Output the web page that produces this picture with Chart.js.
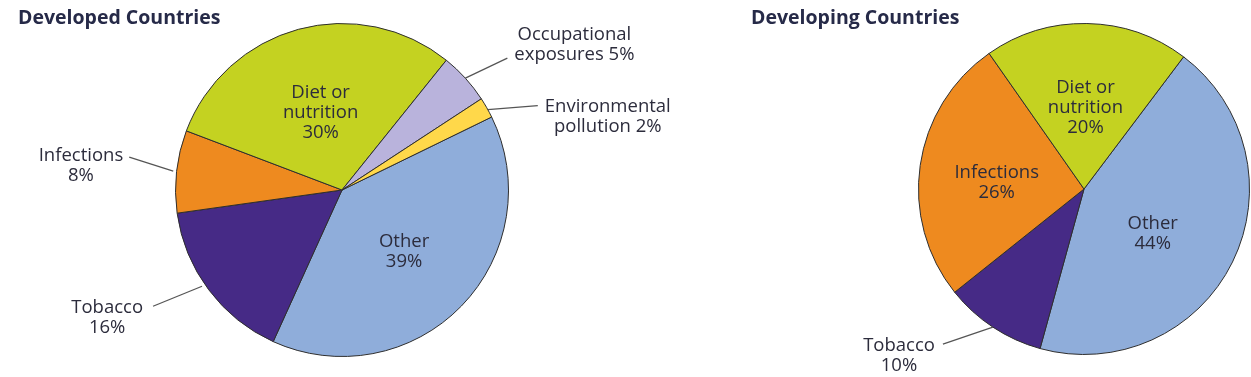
<!DOCTYPE html>
<html>
<head>
<meta charset="utf-8">
<script src="https://cdn.jsdelivr.net/npm/chart.js@4.4.1/dist/chart.umd.min.js"></script>
<style>
  html, body { margin:0; padding:0; background:#fff; width:1251px; height:377px; overflow:hidden; }
  .wrap { position:absolute; top:0; height:377px; }
  .title { position:absolute; top:3px; font-family:"Open Sans", sans-serif; font-weight:700; font-size:19.5px; color:#262a48; white-space:nowrap; }
</style>
</head>
<body>
<div class="wrap" style="left:0;width:700px;"><canvas id="c1" width="700" height="377"></canvas></div>
<div class="wrap" style="left:700px;width:551px;"><canvas id="c2" width="551" height="377"></canvas></div>
<div class="title" style="left:18px;">Developed Countries</div>
<div class="title" style="left:751px;">Developing Countries</div>
<script>
// ---- Data ----
const titles = ["Developed Countries", "Developing Countries"];
const developedCategories = ["Other", "Tobacco", "Infections", "Diet or nutrition", "Occupational exposures", "Environmental pollution"];
const developedValues = [39, 16, 8, 30, 5, 2];
const developedLabelLines = [["Other"], ["Tobacco"], ["Infections"], ["Diet or", "nutrition"], ["Occupational", "exposures"], ["Environmental", "pollution"]];
const developingCategories = ["Other", "Tobacco", "Infections", "Diet or nutrition"];
const developingValues = [44, 10, 26, 20];
const developingLabelLines = [["Other"], ["Tobacco"], ["Infections"], ["Diet or", "nutrition"]];

const sliceColors = {
  "Other": "#8fadda",
  "Tobacco": "#462a86",
  "Infections": "#ee8a1f",
  "Diet or nutrition": "#c4d221",
  "Occupational exposures": "#b9b3dc",
  "Environmental pollution": "#ffd84a"
};

// how value is appended to the label lines: same line or new line
function buildLabel(lines, value, sameLine) {
  const l = lines.slice();
  if (sameLine) l[l.length - 1] = l[l.length - 1] + " " + value + "%";
  else l.push(value + "%");
  return l;
}

// ---- Label layout (style only) ----
const developedLayout = [
  {mode:"in", at:0.5, f:0.52},
  {mode:"out", at:0.54, f:1.02, dx:-49, dy:20, side:"right", tx:-10, ty:10.5},
  {mode:"out", at:0.5, f:1.02, dx:-44, dy:-14, side:"right", tx:-6, ty:7},
  {mode:"in", at:0.5, f:0.49},
  {mode:"out", at:0.5, f:1.0, dx:42, dy:-20, side:"left", tx:7, ty:-14.5, sameLine:true},
  {mode:"out", at:0.6, f:1.0, dx:50, dy:-4, side:"left", tx:7, ty:9.5, sameLine:true}
];
const developingLayout = [
  {mode:"in", at:0.537, f:0.49},
  {mode:"out", at:0.5, f:1.0, dx:-50, dy:17, side:"right", tx:-8, ty:10},
  {mode:"in", at:0.47, f:0.53},
  {mode:"in", at:0.5, f:0.5}
];

const FONT = '18.5px "Open Sans", sans-serif';
const TEXT_COLOR = "#2c2c3c";
const LINE_H = 20;
const TEXT_SHIFT = 1.5;

const labelPlugin = {
  id: "sliceLabels",
  afterDatasetsDraw(chart, args, opts) {
    const ctx = chart.ctx;
    const meta = chart.getDatasetMeta(0);
    const vals = chart.data.datasets[0].data;
    ctx.save();
    ctx.font = FONT;
    ctx.fillStyle = TEXT_COLOR;
    ctx.textBaseline = "middle";
    meta.data.forEach((arc, i) => {
      const p = arc.getProps(["x","y","startAngle","endAngle","outerRadius"], true);
      const L = opts.layout[i];
      const lines = buildLabel(opts.lines[i], vals[i], L.sameLine);
      const a = p.startAngle + (p.endAngle - p.startAngle) * L.at;
      const px = p.x + Math.cos(a) * p.outerRadius * L.f;
      const py = p.y + Math.sin(a) * p.outerRadius * L.f;
      let cx, cy;
      const widths = lines.map(t => ctx.measureText(t).width);
      const bw = Math.max(...widths);
      if (L.mode === "in") {
        cx = px; cy = py;
      } else {
        const ex = px + L.dx, ey = py + L.dy;
        ctx.strokeStyle = "#555";
        ctx.lineWidth = 1.2;
        ctx.beginPath();
        ctx.moveTo(px, py);
        ctx.lineTo(ex, ey);
        ctx.stroke();
        if (L.side === "left") cx = ex + L.tx + bw / 2;
        else cx = ex + L.tx - bw / 2;
        cy = ey + L.ty;
      }
      ctx.textAlign = "center";
      const top = cy - (lines.length - 1) * LINE_H / 2 + TEXT_SHIFT;
      lines.forEach((t, k) => ctx.fillText(t, cx, top + k * LINE_H));
    });
    ctx.restore();
  }
};

function makePie(id, cats, vals, lines, layout, rotation, padding) {
  return new Chart(document.getElementById(id), {
    type: "pie",
    data: {
      labels: cats,
      datasets: [{
        data: vals,
        backgroundColor: cats.map(c => sliceColors[c]),
        borderColor: "#2e2e2e",
        borderWidth: 1
      }]
    },
    options: {
      responsive: false,
      animation: false,
      rotation: rotation,
      layout: { padding: padding },
      plugins: {
        legend: { display: false },
        tooltip: { enabled: false },
        sliceLabels: { lines: lines, layout: layout }
      }
    },
    plugins: [labelPlugin]
  });
}

makePie("c1", developedCategories, developedValues, developedLabelLines, developedLayout, 64,
  {left:175, right:191, top:23, bottom:20});
makePie("c2", developingCategories, developingValues, developingLabelLines, developingLayout, 37,
  {left:218, right:1, top:23, bottom:22});
</script>
</body>
</html>
